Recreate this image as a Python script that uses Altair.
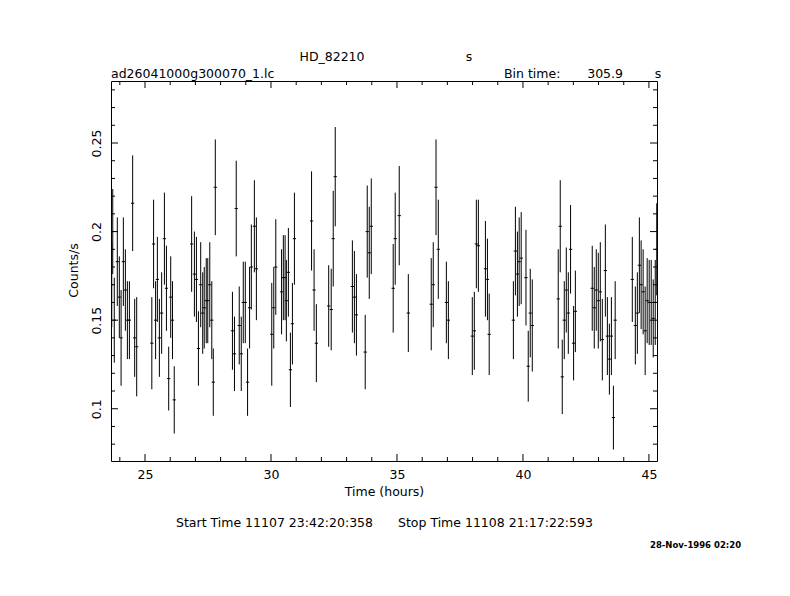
import altair as alt
import pandas as pd

# ---- light-curve data (time in hours, count rate, 1-sigma error) ----
time_hours = [
    23.68, 23.72, 23.78, 23.90, 23.98, 24.05, 24.14, 24.22, 24.30, 24.38, 24.51, 24.59, 24.67,
    25.27, 25.34, 25.42, 25.49, 25.57, 25.66, 25.77, 25.85, 25.94, 26.02, 26.09, 26.16,
    26.85, 26.96, 27.04, 27.12, 27.21, 27.29, 27.35, 27.43, 27.49, 27.57, 27.65, 27.71, 27.79,
    28.47, 28.55, 28.62, 28.74, 28.82, 28.90, 28.98, 29.07, 29.15, 29.22, 29.34, 29.42,
    30.03, 30.11, 30.19, 30.42, 30.49, 30.56, 30.61, 30.69, 30.77, 30.85, 30.93,
    31.61, 31.71, 31.80, 32.29, 32.39, 32.47, 32.55, 33.23, 33.31, 33.39, 33.74, 33.82, 33.90, 33.98,
    34.85, 34.93, 35.09, 35.45, 36.36, 36.44, 36.55, 36.64, 36.96, 37.04,
    37.99, 38.07, 38.15, 38.23, 38.51, 38.59, 38.66,
    39.62, 39.70, 39.78, 39.85, 39.93, 40.12, 40.21, 40.29, 40.37,
    41.40, 41.48, 41.56, 41.64, 41.72, 41.80, 41.89, 42.01, 42.08,
    42.75, 42.83, 42.91, 42.99, 43.07, 43.15, 43.27, 43.35, 43.43, 43.51, 43.59, 43.66,
    44.34, 44.46, 44.54, 44.62, 44.69, 44.77, 44.85, 44.93, 45.01, 45.09, 45.17, 45.25, 45.31,
]
rate = [
    0.170, 0.200, 0.150, 0.183, 0.163, 0.140, 0.183, 0.167, 0.150, 0.150, 0.216, 0.140, 0.135,
    0.137, 0.193, 0.150, 0.173, 0.140, 0.154, 0.196, 0.168, 0.117, 0.163, 0.150, 0.105,
    0.193, 0.176, 0.173, 0.134, 0.170, 0.154, 0.157, 0.161, 0.161, 0.170, 0.150, 0.115, 0.225,
    0.144, 0.131, 0.213, 0.147, 0.131, 0.160, 0.160, 0.115, 0.157, 0.180, 0.203, 0.179,
    0.142, 0.157, 0.180, 0.166, 0.174, 0.174, 0.161, 0.177, 0.122, 0.148, 0.196,
    0.206, 0.167, 0.137, 0.158, 0.156, 0.196, 0.231, 0.169, 0.163, 0.153, 0.132, 0.200, 0.188, 0.203,
    0.168, 0.196, 0.209, 0.154, 0.159, 0.170, 0.225, 0.190, 0.160, 0.150,
    0.141, 0.144, 0.193, 0.192, 0.179, 0.173, 0.142,
    0.150, 0.189, 0.176, 0.183, 0.185, 0.174, 0.124, 0.154, 0.147,
    0.162, 0.203, 0.118, 0.150, 0.167, 0.154, 0.190, 0.137, 0.155,
    0.168, 0.157, 0.167, 0.161, 0.166, 0.139, 0.178, 0.141, 0.128, 0.141, 0.095, 0.150,
    0.173, 0.147, 0.154, 0.181, 0.170, 0.166, 0.144, 0.161, 0.160, 0.160, 0.151, 0.160, 0.190,
]
rate_err = [
    0.024, 0.024, 0.024, 0.025, 0.023, 0.027, 0.025, 0.023, 0.022, 0.022, 0.027, 0.022, 0.028,
    0.026, 0.025, 0.022, 0.024, 0.022, 0.023, 0.026, 0.024, 0.018, 0.023, 0.022, 0.019,
    0.027, 0.024, 0.024, 0.021, 0.024, 0.023, 0.023, 0.024, 0.024, 0.024, 0.022, 0.019, 0.027,
    0.022, 0.021, 0.027, 0.022, 0.021, 0.023, 0.023, 0.019, 0.023, 0.024, 0.026, 0.029,
    0.029, 0.023, 0.027, 0.024, 0.024, 0.024, 0.023, 0.025, 0.021, 0.023, 0.026,
    0.028, 0.023, 0.022, 0.023, 0.023, 0.027, 0.028, 0.026, 0.026, 0.023, 0.021, 0.026, 0.026, 0.027,
    0.025, 0.026, 0.028, 0.022, 0.026, 0.024, 0.027, 0.028, 0.023, 0.022,
    0.022, 0.022, 0.025, 0.026, 0.027, 0.023, 0.023,
    0.022, 0.025, 0.024, 0.025, 0.026, 0.027, 0.020, 0.025, 0.026,
    0.028, 0.026, 0.021, 0.022, 0.024, 0.023, 0.025, 0.021, 0.023,
    0.024, 0.023, 0.023, 0.027, 0.028, 0.023, 0.026, 0.022, 0.020, 0.022, 0.018, 0.022,
    0.024, 0.022, 0.023, 0.027, 0.025, 0.024, 0.025, 0.024, 0.024, 0.024, 0.022, 0.024, 0.026,
]

# ---- axis ticks ----
x_major = [25, 30, 35, 40, 45]
x_minor = [24, 26, 27, 28, 29, 31, 32, 33, 34, 36, 37, 38, 39, 41, 42, 43, 44]
y_major = [0.10, 0.15, 0.20, 0.25]
y_minor = [0.08, 0.09, 0.11, 0.12, 0.13, 0.14, 0.16, 0.17, 0.18, 0.19,
           0.21, 0.22, 0.23, 0.24, 0.26, 0.27, 0.28]

W, H = 546, 380
X_DOMAIN = [23.65, 45.32]
Y_DOMAIN = [0.0705, 0.285]
HALF_BIN = 0.065
FONT = "DejaVu Sans"
FS = 12.5

xs = alt.Scale(domain=X_DOMAIN, nice=False, zero=False)
ys = alt.Scale(domain=Y_DOMAIN, nice=False, zero=False)

x_axis = alt.Axis(values=x_major, format="d", ticks=False, tickSize=0, domain=False, grid=False,
                  labelFont=FONT, labelFontSize=FS, labelColor="black", labelPadding=7,
                  title="Time (hours)", titleFont=FONT, titleFontSize=FS, titleFontWeight="normal",
                  titleColor="black", titleX=W / 2, titleY=30, titleAlign="center",
                  titleBaseline="middle", titleAngle=0)
y_axis = alt.Axis(values=y_major, format=".2~f", ticks=False, tickSize=0, domain=False, grid=False,
                  labelFont=FONT, labelFontSize=FS, labelColor="black", labelPadding=8,
                  labelAngle=270, labelAlign="center", labelBaseline="bottom",
                  title="Counts/s", titleFont=FONT, titleFontSize=FS, titleFontWeight="normal",
                  titleColor="black", titleX=-38, titleY=189, titleAngle=270,
                  titleAlign="center", titleBaseline="middle")

df = pd.DataFrame({"t": time_hours, "r": rate, "e": rate_err})

err_bars = alt.Chart(df).transform_calculate(
    lo="datum.r - datum.e", hi="datum.r + datum.e"
).mark_rule(color="black", strokeWidth=1, clip=True).encode(
    x=alt.X("t:Q", scale=xs, axis=x_axis),
    y=alt.Y("lo:Q", scale=ys, axis=y_axis),
    y2="hi:Q",
)

caps = alt.Chart(df).transform_calculate(
    t0=f"datum.t - {HALF_BIN}", t1=f"datum.t + {HALF_BIN}"
).mark_rule(color="black", strokeWidth=1, clip=True).encode(
    x=alt.X("t0:Q", scale=xs, axis=x_axis),
    x2="t1:Q",
    y=alt.Y("r:Q", scale=ys, axis=y_axis),
)


def xticks(vals, length):
    d = pd.DataFrame({"v": vals})
    bottom = alt.Chart(d).mark_rule(color="black", strokeWidth=1).encode(
        x=alt.X("v:Q", scale=xs, axis=x_axis), y=alt.value(H), y2=alt.value(H - length))
    top = alt.Chart(d).mark_rule(color="black", strokeWidth=1).encode(
        x=alt.X("v:Q", scale=xs, axis=x_axis), y=alt.value(0), y2=alt.value(length))
    return [bottom, top]


def yticks(vals, length):
    d = pd.DataFrame({"v": vals})
    left = alt.Chart(d).mark_rule(color="black", strokeWidth=1).encode(
        y=alt.Y("v:Q", scale=ys, axis=y_axis), x=alt.value(0), x2=alt.value(length))
    right = alt.Chart(d).mark_rule(color="black", strokeWidth=1).encode(
        y=alt.Y("v:Q", scale=ys, axis=y_axis), x=alt.value(W), x2=alt.value(W - length))
    return [left, right]


def label(text, x, y, align="left", size=FS, weight="normal"):
    d = pd.DataFrame({"s": [text]})
    return alt.Chart(d).mark_text(
        align=align, baseline="middle", font=FONT, fontSize=size, fontWeight=weight, color="black"
    ).encode(x=alt.value(x), y=alt.value(y), text="s:N")


texts = [
    label("HD_82210", 221, -24, align="center"),
    label("s", 358, -24, align="center"),
    label("ad26041000g300070_1.lc", 0, -7),
    label("Bin time:", 393, -7),
    label("305.9", 512, -7, align="right"),
    label("s", 547, -7, align="center"),
    label("Start Time 11107 23:42:20:358", 65, 442),
    label("Stop Time 11108 21:17:22:593", 287, 442),
    label("28-Nov-1996 02:20", 539, 464, size=8.5, weight="bold"),
]

layers = [err_bars, caps] + xticks(x_major, 7) + xticks(x_minor, 4) + \
    yticks(y_major, 7) + yticks(y_minor, 4) + texts

chart = alt.layer(*layers).properties(
    width=W, height=H,
    autosize=alt.AutoSizeParams(type="none"),
    padding={"left": 103, "top": 73, "right": 120, "bottom": 120},
    background="white",
).configure_view(stroke="black", strokeWidth=1)

chart.save("out.html", embed_options={"renderer": "svg", "actions": False})
